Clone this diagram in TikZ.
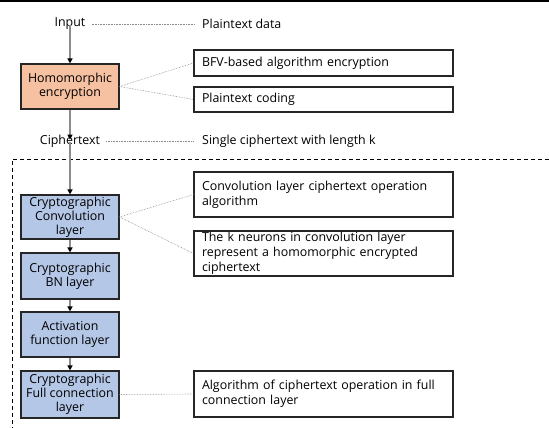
\documentclass[tikz,border=0pt]{standalone}
\usepackage{fontspec}
\setmainfont{Open Sans}
\usetikzlibrary{arrows.meta}
\definecolor{heorange}{HTML}{F6C1A0}
\definecolor{layerblue}{HTML}{B4C7E7}
\definecolor{dotgray}{HTML}{8A8A8A}
\begin{document}
\begin{tikzpicture}[x=1pt,y=-1pt,
  every node/.style={font=\fontsize{12.4}{14}\selectfont, inner sep=0pt},
  lbox/.style={draw=black!85, line width=1.1pt, minimum width=98pt, align=center},
  rbox/.style={draw=black!85, line width=1.1pt, minimum width=259pt, text width=247pt, align=left, inner xsep=6pt, font=\fontsize{12.4}{15}\selectfont},
  flow/.style={draw=gray!90, line width=1.4pt, -{Triangle[length=5pt,width=5pt,color=black]}},
  note/.style={draw=dotgray, densely dotted, line width=0.6pt}
]
\useasboundingbox (0,0) rectangle (549,428);
\draw[line width=1.5pt] (0,1) -- (549,1);
\draw[dashed, dash pattern=on 4pt off 3pt, line width=0.9pt] (549,159) -- (12,159) -- (12,428);

\node (input) at (70,24) {Input};
\node[anchor=west] (plain) at (202,24) {Plaintext data};
\node[lbox, fill=heorange, minimum height=45pt] (he) at (70,86.5) {Homomorphic\\encryption};
\node[rbox, minimum height=26pt] (bfv) at (323.5,63) {\hspace{2pt}BFV-based algorithm encryption};
\node[rbox, minimum height=25pt] (code) at (323.5,99.5) {\hspace{2pt}Plaintext coding};
\node (cipher) at (70,141) {Ciphertext};
\node[anchor=west] (single) at (202,141) {Single ciphertext with length k};

\node[lbox, fill=layerblue, minimum height=44pt] (conv) at (70,217) {Cryptographic\\Convolution\\layer};
\node[rbox, minimum height=45pt] (convalg) at (323.5,194.5) {\hspace{2pt}Convolution layer ciphertext operation\\\hspace{2pt}algorithm};
\node[rbox, minimum height=45pt] (kneur) at (323.5,253.5) {\hspace{2pt}The k neurons in convolution layer\\\hspace{2pt}represent a homomorphic encrypted\\\hspace{2pt}ciphertext};
\node[lbox, fill=layerblue, minimum height=46pt] (bn) at (70,276) {Cryptographic\\BN layer};
\node[lbox, fill=layerblue, minimum height=45pt] (act) at (70,334.5) {Activation\\function layer};
\node[lbox, fill=layerblue, minimum height=47pt] (fc) at (70,394.5) {Cryptographic\\Full connection\\layer};
\node[rbox, minimum height=46pt] (fcalg) at (323.5,394) {\hspace{2pt}Algorithm of ciphertext operation in full\\\hspace{2pt}connection layer};

\draw[flow] ([yshift=5pt]input.south) -- (he.north);
\draw[flow] (he.south) -- ([yshift=-5pt]cipher.north);
\draw[flow] ([yshift=5pt]cipher.south) -- (conv.north);
\draw[flow] (conv.south) -- (bn.north);
\draw[flow] (bn.south) -- (act.north);
\draw[flow] (act.south) -- (fc.north);

\draw[note] ([xshift=6pt]input.east) -- ([xshift=-8pt]plain.west);
\draw[note] ([xshift=6pt]cipher.east) -- ([xshift=-8pt]single.west);
\draw[note] (he.east) -- (bfv.west);
\draw[note] (he.east) -- (code.west);
\draw[note] (conv.east) -- (convalg.west);
\draw[note] (conv.east) -- (kneur.west);
\draw[note] (fc.east) -- (fcalg.west);
\end{tikzpicture}
\end{document}
